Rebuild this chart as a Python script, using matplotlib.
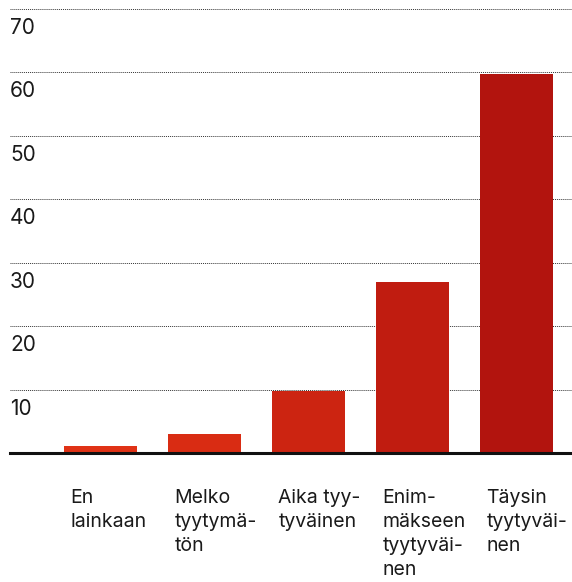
import numpy as np
import matplotlib.pyplot as plt

# data
categories = ["En\nlainkaan", "Melko\ntyytymä-\ntön", "Aika tyy-\ntyväinen",
              "Enim-\nmäkseen\ntyytyväi-\nnen", "Täysin\ntyytyväi-\nnen"]
values = [1.2, 3.0, 9.8, 27.0, 59.7]
bar_colors = ["#e03216", "#d92c13", "#cc2411", "#c01c10", "#b2140e"]
yticks = [10, 20, 30, 40, 50, 60, 70]

plt.rcParams['font.family'] = ['Inter', 'DejaVu Sans']

fig = plt.figure(figsize=(5.72, 5.82), dpi=100)
ax = fig.add_axes([10 / 572, 1 - 453.4 / 582, 1 - 10 / 572, (453.4 - 8.5) / 582])

x = np.arange(len(categories))
ax.bar(x, values, width=0.70, color=bar_colors, zorder=2)

ax.set_xlim(-0.870, 4.534)
ax.set_ylim(0, 70)

# dotted grid lines + labels sitting under them
for v in yticks:
    ax.axhline(v, color="#333333", lw=0.7, ls=(0, (1, 1)), zorder=1)
    ax.annotate(str(v), xy=(0, v), xycoords=('axes fraction', 'data'),
                xytext=(0, -9), textcoords='offset pixels',
                ha='left', va='top', fontsize=15, color="#1a1a1a")

# baseline
ax.plot([0, 1], [0, 0], transform=ax.get_yaxis_transform(), color="#111111",
        lw=2.2, zorder=4, clip_on=False)

# category labels under bars
for xi, lab in zip(x, categories):
    ax.annotate(lab, xy=(xi - 0.29, 0), xycoords='data',
                xytext=(0, -36), textcoords='offset pixels',
                ha='left', va='top', fontsize=14, color="#1a1a1a",
                linespacing=1.42)

ax.set_xticks([])
ax.set_yticks([])
for s in ax.spines.values():
    s.set_visible(False)

fig.savefig("out.png", dpi=100)
